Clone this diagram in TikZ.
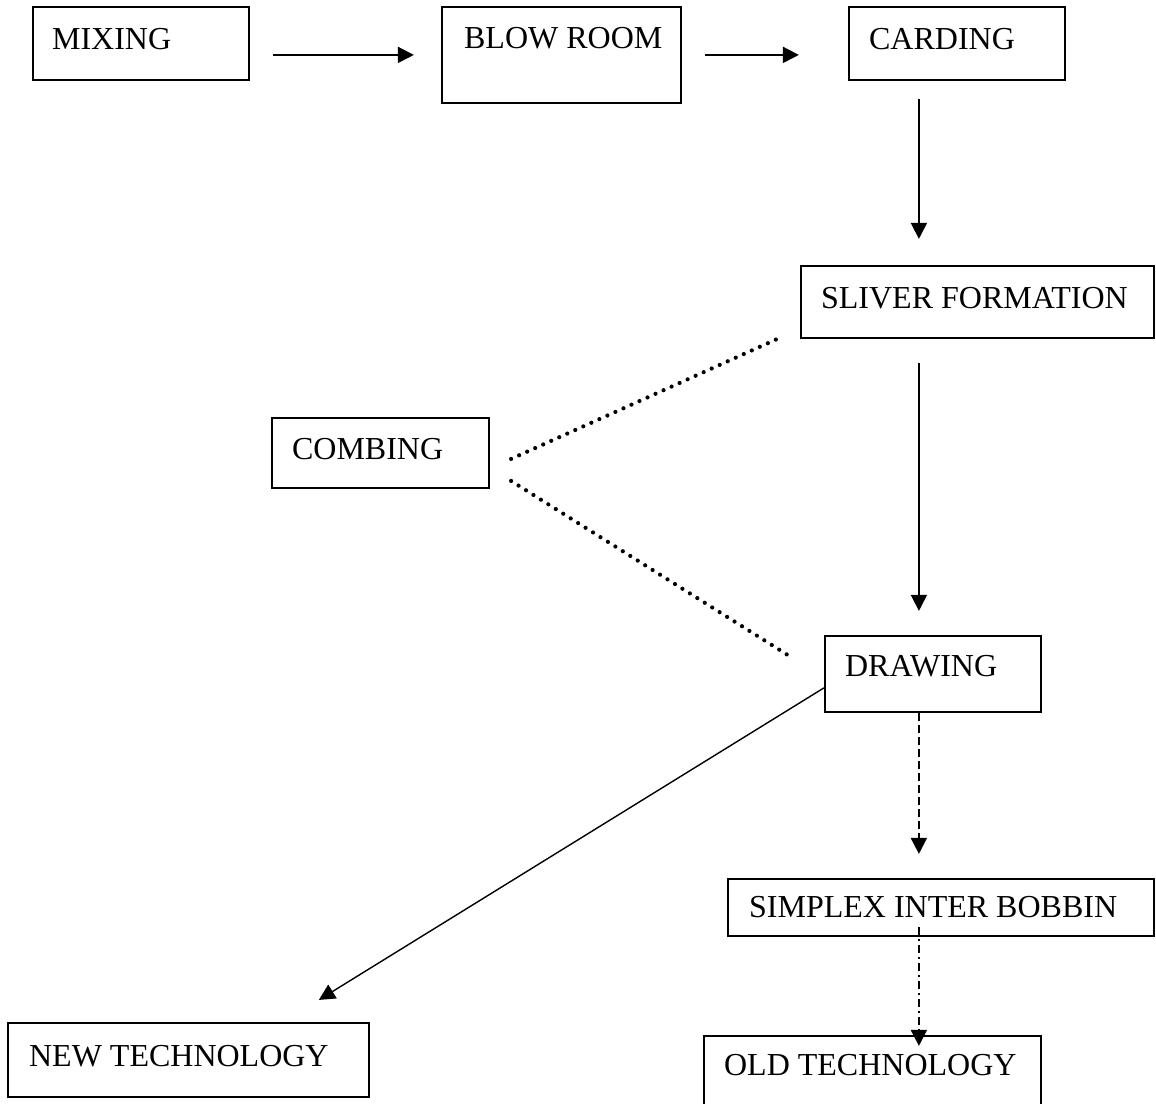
\documentclass[tikz,border=0pt]{standalone}
\usepackage{fontspec}
\setmainfont{Liberation Serif}
\usetikzlibrary{arrows.meta,calc,fit}
\newcommand{\stagenode}[8]{%
  \node[stagebox, fit={(#2,#3) (#4,#5)},
    label={[stagetext, xshift=#6pt, yshift=-#7pt]north west:#8}] (#1) {};}
\begin{document}
\begin{tikzpicture}[x=1pt,y=-1pt,
  every node/.style={font=\fontsize{32}{38}\selectfont},
  stagebox/.style={draw, line width=2.2pt, inner sep=0pt},
  stagetext/.style={anchor=base west, inner sep=0pt},
  flow/.style={line width=1.7pt, -{Triangle[length=16pt,width=16pt]}},
  dotline/.style={line width=4.2pt, line cap=round, dash pattern=on 0pt off 8.8pt},
  dashline/.style={line width=2pt, dash pattern=on 8pt off 4pt},
  dashdotline/.style={line width=2pt, dash pattern=on 8pt off 4pt on 2pt off 4pt}]
\fill[white] (0,0) rectangle (1156,1103);
\useasboundingbox (0,0) rectangle (1156,1103);

\stagenode{mix}{33}{7}{249}{80}{20}{44}{MIXING}
\stagenode{blow}{442}{7}{681}{103}{23}{43}{BLOW ROOM}
\stagenode{card}{849}{7}{1065}{80}{21}{44}{CARDING}
\stagenode{sliver}{801}{266}{1154}{338}{21}{44}{SLIVER FORMATION}
\stagenode{comb}{272}{418}{489}{488}{21}{43}{COMBING}
\stagenode{drw}{825}{636}{1041}{712}{21}{42}{DRAWING}
\stagenode{simp}{728}{879}{1154}{936}{22}{40}{SIMPLEX INTER BOBBIN}
\stagenode{newt}{8}{1023}{369}{1097}{22}{45}{NEW TECHNOLOGY}
\stagenode{old}{704}{1036}{1041}{1108}{21}{41}{OLD TECHNOLOGY}

\draw[flow] ($(mix.north east)+(23,49)$) -- ($(blow.north west)+(-27,49)$);
\draw[flow] ($(blow.north east)+(23,49)$) -- ($(card.north west)+(-49,49)$);
\draw[flow] ($(card.south west)+(71,18)$) -- ($(sliver.north west)+(119,-26)$);
\draw[flow] ($(sliver.south west)+(119,24)$) -- ($(drw.north west)+(95,-24)$);

\draw[dotline] ($(comb.north east)+(21,42)$) -- ($(sliver.south west)+(-23,0)$);
\draw[dotline] ($(comb.north east)+(21,64)$) -- ($(drw.north west)+(-30,24)$);

\draw[flow, line width=1.4pt] ($(drw.north west)+(0,53)$) -- ($(newt.north west)+(312,-22)$);
\draw[flow, dashline] ($(drw.south west)+(95,0)$) -- ($(simp.north west)+(192,-24)$);
\draw[flow, dashdotline] ($(simp.north west)+(192,49)$) -- ($(old.north west)+(216,11)$);
\end{tikzpicture}
\end{document}
